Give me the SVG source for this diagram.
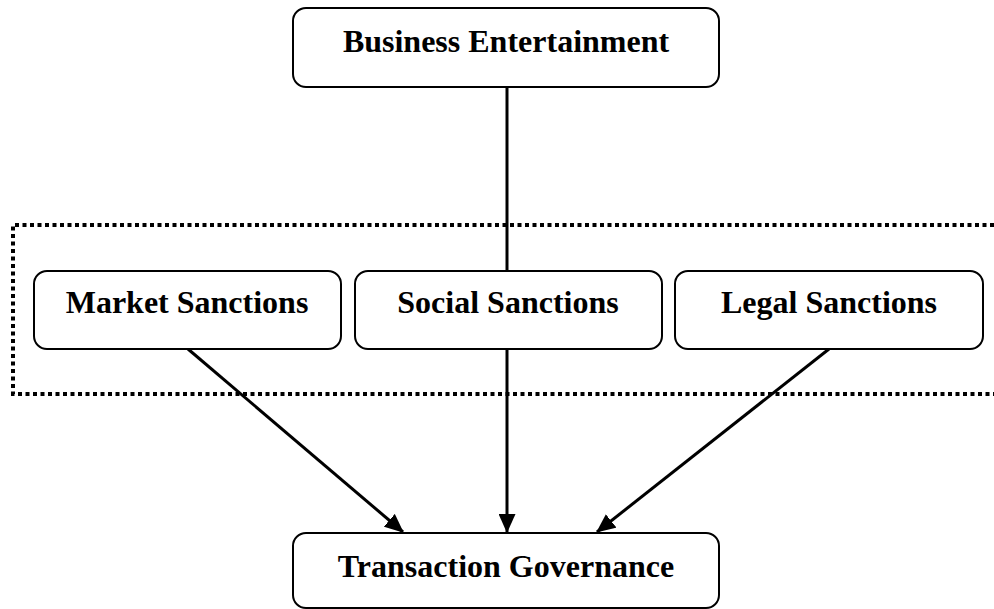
<svg xmlns="http://www.w3.org/2000/svg" width="994" height="609" viewBox="0 0 994 609">
  <style>
    .box { fill: #ffffff; stroke: #000000; stroke-width: 2; }
    .label { font-family: "Liberation Serif", "Times New Roman", serif; font-weight: bold; font-size: 32px; fill: #000000; text-anchor: middle; }
    .link { stroke: #000000; stroke-width: 3; fill: none; }
    .group { stroke: #000000; stroke-width: 4; stroke-dasharray: 4 3.5; fill: none; }
  </style>
  <defs>
    <marker id="arrow" markerUnits="userSpaceOnUse" markerWidth="19" markerHeight="17" refX="18" refY="8.5" orient="auto">
      <path d="M0,0 L19,8.5 L0,17 Z" fill="#000000"/>
    </marker>
  </defs>
  <rect width="994" height="609" fill="#ffffff"/>

  <!-- dotted grouping frame around the three sanctions -->
  <path class="group" d="M994,225 L13,225 L13,394 L994,394"/>

  <g id="connectors">
    <line class="link" x1="507" y1="87" x2="507" y2="271"/>
    <line class="link" x1="188" y1="349" x2="403" y2="532" marker-end="url(#arrow)"/>
    <line class="link" x1="507" y1="349" x2="507" y2="532" marker-end="url(#arrow)"/>
    <line class="link" x1="829" y1="349" x2="597" y2="532" marker-end="url(#arrow)"/>
  </g>

  <g id="business-entertainment">
    <rect class="box" x="293" y="8" width="426" height="79" rx="13"/>
    <text class="label" x="506" y="52">Business Entertainment</text>
  </g>

  <g id="market-sanctions">
    <rect class="box" x="34" y="271" width="307" height="78" rx="13"/>
    <text class="label" x="187" y="313">Market Sanctions</text>
  </g>

  <g id="social-sanctions">
    <rect class="box" x="355" y="271" width="307" height="78" rx="13"/>
    <text class="label" x="508" y="313">Social Sanctions</text>
  </g>

  <g id="legal-sanctions">
    <rect class="box" x="675" y="271" width="308" height="78" rx="13"/>
    <text class="label" x="829" y="313">Legal Sanctions</text>
  </g>

  <g id="transaction-governance">
    <rect class="box" x="293" y="533" width="426" height="75" rx="13"/>
    <text class="label" x="506" y="577">Transaction Governance</text>
  </g>
</svg>
